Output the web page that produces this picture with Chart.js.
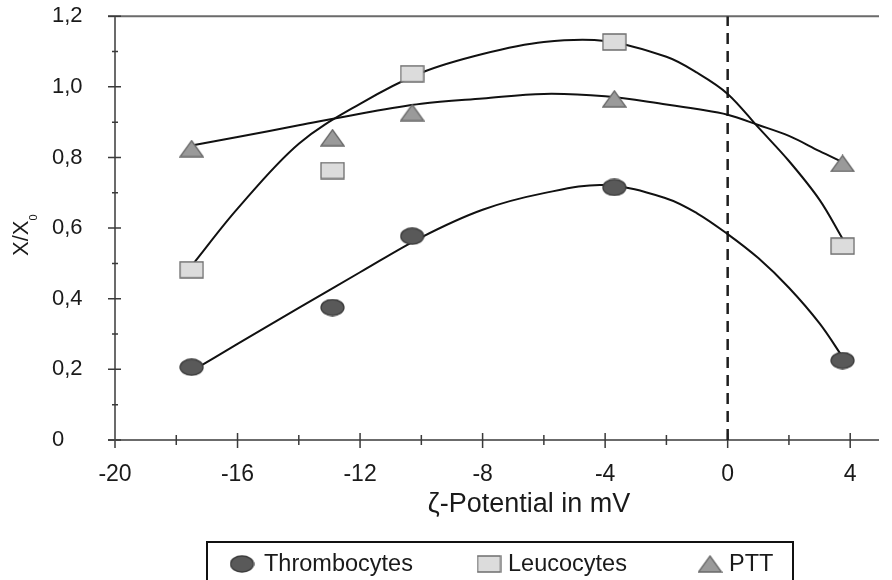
<!DOCTYPE html>
<html>
<head>
<meta charset="utf-8">
<script src="https://cdn.jsdelivr.net/npm/chart.js"></script>
<style>
  html, body { margin: 0; padding: 0; background: #fff; }
</style>
</head>
<body>
<canvas id="myChart" width="892" height="580"></canvas>
<script>
const CHART = document.getElementById('myChart');
const FONT = '"Liberation Sans", Arial, sans-serif';

// measured points
const seriesNames = ['Thrombocytes', 'Leucocytes', 'PTT'];
const zetaPotential = [-17.5, -12.9, -10.3, -3.7, 3.75];
const thrombocytes = [0.206, 0.375, 0.577, 0.715, 0.225];
const leucocytes = [0.482, 0.763, 1.037, 1.127, 0.549];
const ptt = [0.825, 0.856, 0.927, 0.966, 0.783];

// fitted trend curves
const trendX = [-17.5, -16, -14, -12, -10, -8, -6, -4, -2, -1, 0, 1, 2, 3, 3.75];
const thrombocytesTrend = [0.195, 0.272, 0.374, 0.475, 0.574, 0.652, 0.699, 0.722, 0.684, 0.642, 0.583, 0.515, 0.431, 0.33, 0.235];
const leucocytesTrend = [0.493, 0.655, 0.839, 0.952, 1.040, 1.093, 1.127, 1.130, 1.085, 1.040, 0.980, 0.885, 0.79, 0.68, 0.57];
const pttTrend = [0.834, 0.858, 0.891, 0.924, 0.952, 0.967, 0.980, 0.973, 0.950, 0.937, 0.921, 0.892, 0.861, 0.818, 0.787];

const xTicks = { min: -20, max: 4.94, step: 2, labelStep: 4 };
const yTicks = { min: 0, max: 1.2, step: 0.2 };

const makeMarker = (shape, fill, stroke) => {
    const w = 25, h = 18;
    const c = document.createElement('canvas');
    c.width = w; c.height = h;
    const g = c.getContext('2d');
    g.fillStyle = fill;
    g.strokeStyle = stroke;
    g.lineWidth = 1.3;
    g.beginPath();
    if (shape === 'ellipse') {
        g.ellipse(w / 2, h / 2, w / 2 - 1, h / 2 - 1, 0, 0, Math.PI * 2);
    } else if (shape === 'rect') {
        g.rect(1, 1, w - 2, h - 2);
    } else {
        g.moveTo(w / 2, 1);
        g.lineTo(w - 1, h - 1);
        g.lineTo(1, h - 1);
        g.closePath();
    }
    g.fill();
    g.stroke();
    return c;
};

const markers = [
    makeMarker('ellipse', '#595959', '#3c3c3c'),
    makeMarker('rect', '#dcdcdc', '#6e6e6e'),
    makeMarker('triangle', '#9a9a9a', '#6a6a6a')
];

const toPoints = (xs, ys) => xs.map((x, i) => ({ x: x, y: ys[i] }));

const pointSets = [thrombocytes, leucocytes, ptt].map((vals, i) => ({
    label: seriesNames[i],
    data: toPoints(zetaPotential, vals),
    pointStyle: markers[i],
    pointRadius: 12,
    showLine: false,
    order: 0
}));

const trendSets = [thrombocytesTrend, leucocytesTrend, pttTrend].map((vals, i) => ({
    label: seriesNames[i] + ' trend',
    data: toPoints(trendX, vals),
    showLine: true,
    borderColor: '#111',
    borderWidth: 2,
    pointRadius: 0,
    tension: 0.35,
    order: 1
}));

const zeroLine = {
    label: 'zero',
    data: [{ x: 0, y: yTicks.min }, { x: 0, y: yTicks.max }],
    showLine: true,
    borderColor: '#1e1e1e',
    borderWidth: 2.5,
    borderDash: [11, 7],
    pointRadius: 0,
    order: 2
};

// axis lines, crossing tick marks and the top border
const axesPlugin = {
    id: 'axesPlugin',
    beforeDatasetsDraw(chart) {
        const { ctx, chartArea: a, scales: { x, y } } = chart;
        const ax = x.getPixelForValue(xTicks.min);
        const ay = y.getPixelForValue(yTicks.min);
        ctx.save();
        ctx.strokeStyle = '#6b6b6b';
        ctx.lineWidth = 2;
        ctx.beginPath();
        ctx.moveTo(ax - 7, a.top); ctx.lineTo(a.right, a.top);
        ctx.moveTo(ax - 7, ay); ctx.lineTo(a.right, ay);
        ctx.moveTo(ax, a.top); ctx.lineTo(ax, ay + 8);
        ctx.stroke();

        ctx.strokeStyle = '#3a3a3a';
        ctx.lineWidth = 1.5;
        ctx.beginPath();
        y.ticks.forEach((t, i) => {
            const py = y.getPixelForValue(t.value);
            ctx.moveTo(ax - 7, py); ctx.lineTo(ax + 6, py);
            if (i > 0) {
                const pm = y.getPixelForValue(t.value - yTicks.step / 2);
                ctx.moveTo(ax - 3, pm); ctx.lineTo(ax + 3, pm);
            }
        });
        x.ticks.forEach(t => {
            if (t.value === xTicks.min) return;
            const px = x.getPixelForValue(t.value);
            const major = Math.round(t.value) % xTicks.labelStep === 0;
            ctx.moveTo(px, ay - (major ? 7 : 5));
            ctx.lineTo(px, ay + (major ? 8 : 5));
        });
        ctx.stroke();
        ctx.restore();
    },
    afterDraw(chart) {
        const { ctx } = chart;
        ctx.save();
        ctx.fillStyle = '#1a1a1a';

        // x axis title
        ctx.font = '27px ' + FONT;
        ctx.textAlign = 'center';
        ctx.textBaseline = 'middle';
        ctx.fillText('\u03B6-Potential in mV', 529, 505);

        // y axis title with subscript
        ctx.save();
        ctx.translate(28, 256);
        ctx.rotate(-Math.PI / 2);
        ctx.textAlign = 'left';
        ctx.textBaseline = 'alphabetic';
        ctx.font = '22px ' + FONT;
        ctx.fillText('X/X', 0, 0);
        const w = ctx.measureText('X/X').width;
        ctx.font = '11px ' + FONT;
        ctx.fillText('0', w, 9);
        ctx.restore();

        // legend box
        ctx.strokeStyle = '#111';
        ctx.lineWidth = 2;
        ctx.strokeRect(207, 542, 586, 60);
        ctx.font = '23.5px ' + FONT;
        ctx.textAlign = 'left';
        ctx.textBaseline = 'middle';
        const items = [
            { mx: 242, tx: 264 },
            { mx: 489, tx: 508 },
            { mx: 710, tx: 729 }
        ];
        items.forEach((it, i) => {
            const m = markers[i];
            ctx.drawImage(m, it.mx - m.width / 2, 564 - m.height / 2);
            ctx.fillText(seriesNames[i], it.tx, 565);
        });
        ctx.restore();
    }
};

const fmtY = v => (Math.abs(v) < 1e-9 ? '0' : v.toFixed(1).replace('.', ','));

const zetaChart = new Chart(CHART, {
    type: 'scatter',
    data: {
        datasets: [...pointSets, ...trendSets, zeroLine]
    },
    options: {
        responsive: false,
        animation: false,
        layout: { padding: { left: 52, top: 14, right: 0, bottom: 80 } },
        plugins: {
            legend: { display: false },
            tooltip: { enabled: false }
        },
        scales: {
            x: {
                type: 'linear',
                min: xTicks.min,
                max: xTicks.max,
                grid: { display: false, drawTicks: false },
                border: { display: false },
                ticks: {
                    stepSize: xTicks.step,
                    includeBounds: false,
                    autoSkip: false,
                    maxRotation: 0,
                    padding: 21,
                    color: '#1a1a1a',
                    font: { family: FONT, size: 23 },
                    callback: v => (Math.round(v) % xTicks.labelStep === 0 ? String(v) : '')
                },
                afterFit: s => { s.height = 60; }
            },
            y: {
                min: yTicks.min,
                max: yTicks.max,
                grid: { display: false, drawTicks: false },
                border: { display: false },
                ticks: {
                    stepSize: yTicks.step,
                    crossAlign: 'far',
                    color: '#1a1a1a',
                    font: { family: FONT, size: 22 },
                    callback: fmtY
                },
                afterFit: s => { s.width = 63; }
            }
        }
    },
    plugins: [axesPlugin]
});
</script>
</body>
</html>
